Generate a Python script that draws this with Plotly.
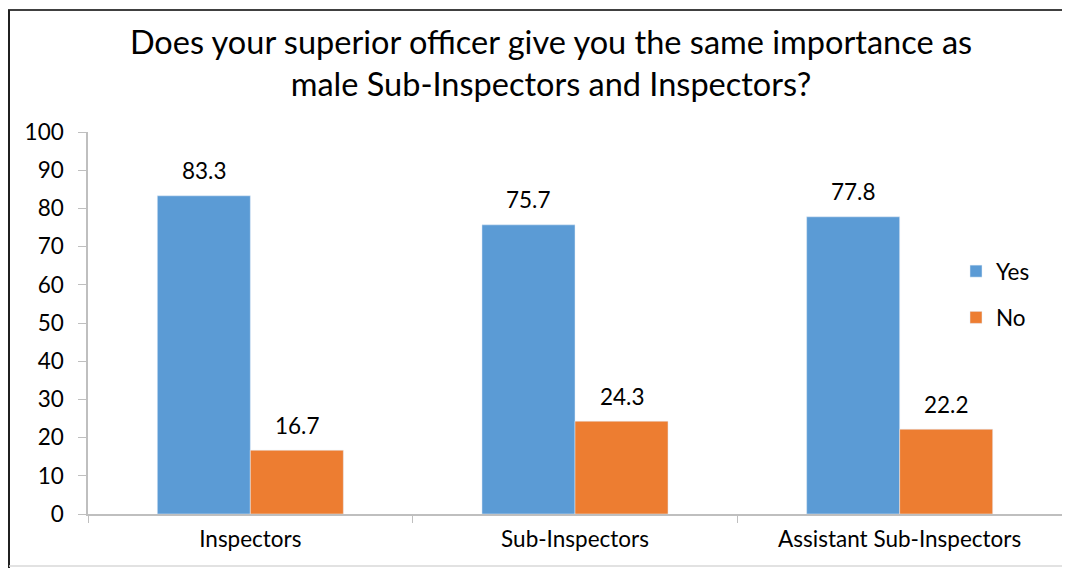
import plotly.graph_objects as go

categories = ["Inspectors", "Sub-Inspectors", "Assistant Sub-Inspectors"]
yes_values = [83.3, 75.7, 77.8]
no_values = [16.7, 24.3, 22.2]
y_ticks = [0, 10, 20, 30, 40, 50, 60, 70, 80, 90, 100]

FONT = "Lato, Calibri, Carlito, sans-serif"
BLUE = "#5B9BD5"
ORANGE = "#ED7D31"

# page body has an 8px margin, so figure coords = screen coords - 8
OFF = 8
W, H = 1062, 560
L, R, T, B = 80, 8, 124, 54
pw, ph = W - L - R, H - T - B
BARGAP = 0.427

fig = go.Figure()
fig.add_trace(go.Bar(name="Yes", x=categories, y=yes_values, marker_color=BLUE,
                     legendgroup="a"))
fig.add_trace(go.Bar(name="No", x=categories, y=no_values, marker_color=ORANGE,
                     legendgroup="b"))

cat_w = pw / len(categories)
bar_w = cat_w * (1 - BARGAP) / 2
ann = []
for vals, sh in ((yes_values, -bar_w / 2), (no_values, bar_w / 2)):
    for c, v in zip(categories, vals):
        ann.append(dict(x=c, y=v, xref="x", yref="y", text=f"{v:.1f}", showarrow=False,
                        xshift=sh, yshift=25, font=dict(family=FONT, size=22.5, color="#000")))

def px_x(p):
    return (p - OFF - L) / pw

def px_y(p):
    return (H - B - (p - OFF)) / ph

shapes = [
    dict(type="line", xref="paper", yref="paper", x0=px_x(8), x1=px_x(1072), y0=px_y(10), y1=px_y(10),
         line=dict(color="#404040", width=2)),
    dict(type="line", xref="paper", yref="paper", x0=px_x(9), x1=px_x(9), y0=px_y(10), y1=px_y(568),
         line=dict(color="#202020", width=2)),
    dict(type="line", xref="paper", yref="paper", x0=px_x(9), x1=px_x(1072), y0=px_y(566), y1=px_y(566),
         line=dict(color="#D9D9D9", width=1.5)),
]

fig.update_layout(
    width=W, height=H,
    margin=dict(l=L, r=R, t=T, b=B),
    paper_bgcolor="white", plot_bgcolor="white",
    font=dict(family=FONT, size=22.5, color="#000"),
    title=dict(text="Does your superior officer give you the same importance as<br>male Sub-Inspectors and Inspectors?",
               x=543 / W, xref="container", xanchor="center",
               y=1 - 46 / H, yref="container", yanchor="middle",
               font=dict(family=FONT, size=32.5, color="#000")),
    barmode="group", bargap=BARGAP, bargroupgap=0,
    showlegend=True,
    legend=dict(x=px_x(956), y=px_y(250), xanchor="left", yanchor="top",
                font=dict(family=FONT, size=22.5, color="#000"),
                tracegroupgap=14, bgcolor="rgba(0,0,0,0)"),
    annotations=ann,
    shapes=shapes,
)
fig.update_xaxes(showline=True, linecolor="#BFBFBF", linewidth=1.5,
                 ticks="outside", tickson="boundaries", ticklen=7, tickcolor="#BFBFBF",
                 ticklabelstandoff=4,
                 tickfont=dict(family=FONT, size=22.5, color="#000"), showgrid=False)
fig.update_yaxes(range=[0, 100], tickvals=y_ticks, showline=True, linecolor="#BFBFBF", linewidth=1.5,
                 ticks="outside", ticklen=8, tickcolor="#BFBFBF", showgrid=False, zeroline=False,
                 ticklabelstandoff=10,
                 tickfont=dict(family=FONT, size=22.5, color="#000"))

fig.write_html("out.html")
